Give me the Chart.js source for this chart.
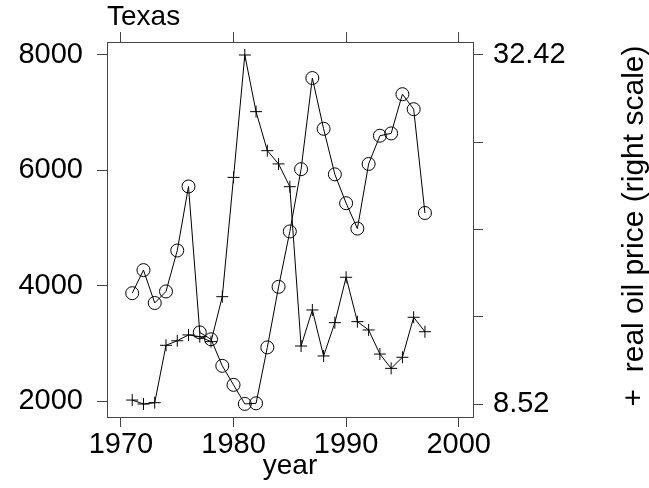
<!DOCTYPE html>
<html>
<head>
<meta charset="utf-8">
<script src="https://cdn.jsdelivr.net/npm/chart.js@4/dist/chart.umd.min.js"></script>
<style>
body { margin: 0; background: #fff; }
</style>
</head>
<body>
<canvas id="chart" width="649" height="488"></canvas>
<script>
const years = [1971, 1972, 1973, 1974, 1975, 1976, 1977, 1978, 1979, 1980, 1981, 1982, 1983, 1984,
    1985, 1986, 1987, 1988, 1989, 1990, 1991, 1992, 1993, 1994, 1995, 1996, 1997];
const texasValues = [3870, 4270, 3700, 3900, 4610, 5720, 3190, 3070, 2610, 2280, 1950, 1960, 2930, 3980,
    4940, 6020, 7600, 6720, 5930, 5430, 4990, 6110, 6600, 6640, 7320, 7060, 5260];
const oilPrice = [8.79, 8.52, 8.61, 12.54, 12.85, 13.25, 13.13, 12.79, 15.87, 24.04, 32.42, 28.54, 25.87, 24.96,
    23.40, 12.49, 14.96, 11.81, 14.09, 17.20, 14.16, 13.59, 11.94, 10.96, 11.72, 14.46, 13.47];
const xTicks = [1970, 1980, 1990, 2000];
const leftTicks = [2000, 4000, 6000, 8000];
const rightTicks = [8.52, 14.495, 20.47, 26.445, 32.42];
const rightLabels = ['8.52', '', '', '', '32.42'];

const axisColor = '#444';
const fontFamily = '"Liberation Sans", Arial, sans-serif';
const tickFont = { family: fontFamily, size: 29 };

// texte vertical de droite, lu de bas en haut
const rightTitle = {
    id: 'rightTitle',
    afterDraw(chart) {
        const ctx = chart.ctx;
        ctx.save();
        ctx.translate(635, 226);
        ctx.rotate(-Math.PI / 2);
        ctx.font = '30px ' + fontFamily;
        ctx.fillStyle = '#000';
        ctx.textAlign = 'center';
        ctx.textBaseline = 'middle';
        ctx.fillText('+  real oil price (right scale)', 0, 0);
        ctx.restore();
    }
};

function setTicks(values) {
    return scale => { scale.ticks = values.map(v => ({ value: v })); };
}

new Chart(document.getElementById('chart'), {
    type: 'line',
    data: {
        labels: years,
        datasets: [{
            label: 'Texas',
            data: years.map((y, i) => ({ x: y, y: texasValues[i] })),
            yAxisID: 'y',
            borderColor: '#000',
            borderWidth: 1,
            pointStyle: 'circle',
            pointRadius: 6.5,
            pointBorderWidth: 1,
            pointBorderColor: '#000',
            pointBackgroundColor: 'transparent',
            fill: false,
            tension: 0
        }, {
            label: 'real oil price',
            data: years.map((y, i) => ({ x: y, y: oilPrice[i] })),
            yAxisID: 'y2',
            borderColor: '#000',
            borderWidth: 1,
            pointStyle: 'cross',
            pointRadius: 6,
            pointBorderWidth: 1,
            pointBorderColor: '#000',
            fill: false,
            tension: 0
        }]
    },
    options: {
        responsive: false,
        animation: false,
        layout: { padding: 0 },
        plugins: {
            legend: { display: false },
            tooltip: { enabled: false }
        },
        scales: {
            x: {
                type: 'linear',
                position: 'bottom',
                min: 1968.76,
                max: 2001.27,
                afterBuildTicks: setTicks(xTicks),
                afterFit: s => { s.height = 71; },
                ticks: { font: tickFont, color: '#000', padding: 1, maxRotation: 0, callback: v => String(v) },
                grid: { drawOnChartArea: false, tickLength: 10, color: axisColor },
                border: { color: axisColor },
                title: { display: true, text: 'year', font: { family: fontFamily, size: 28 }, color: '#000', padding: { top: 0, bottom: 5 } }
            },
            x2: {
                type: 'linear',
                position: 'top',
                min: 1968.76,
                max: 2001.27,
                afterBuildTicks: setTicks(xTicks),
                afterFit: s => { s.height = 42; },
                ticks: { display: false },
                grid: { drawOnChartArea: false, tickLength: 10, color: axisColor },
                border: { color: axisColor },
                title: { display: true, text: 'Texas', align: 'start', font: { family: fontFamily, size: 28 }, color: '#000', padding: { top: 0, bottom: 0 } }
            },
            y: {
                position: 'left',
                min: 1723,
                max: 8225,
                afterBuildTicks: setTicks(leftTicks),
                afterFit: s => { s.width = 107; },
                ticks: { font: tickFont, color: '#000', padding: 14, callback: v => String(v) },
                grid: { drawOnChartArea: false, tickLength: 10, color: axisColor },
                border: { color: axisColor }
            },
            y2: {
                position: 'right',
                min: 7.63,
                max: 33.31,
                afterBuildTicks: setTicks(rightTicks),
                afterFit: s => { s.width = 176; },
                ticks: { font: tickFont, color: '#000', padding: 10, callback: (v, i) => rightLabels[i] },
                grid: { drawOnChartArea: false, tickLength: 10, color: axisColor },
                border: { color: axisColor }
            }
        }
    },
    plugins: [rightTitle]
});
</script>
</body>
</html>
